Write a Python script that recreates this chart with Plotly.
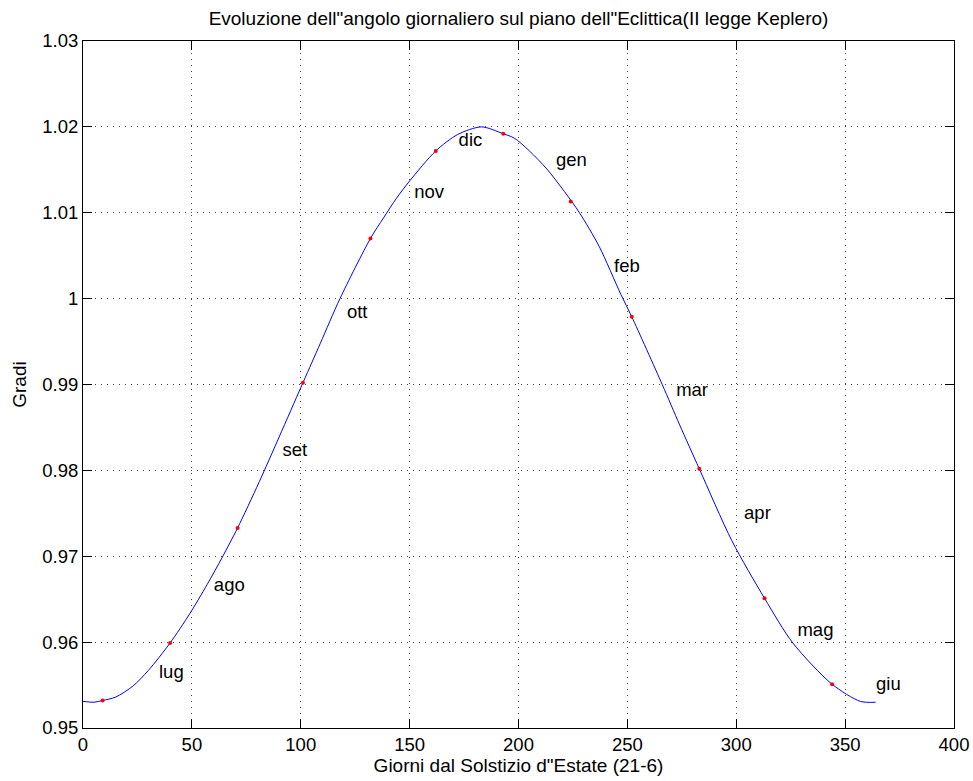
import plotly.graph_objects as go

# Curve samples (day since June solstice, degrees/day)
days = [0, 5, 9, 15, 23, 30, 40, 49, 57, 64, 71, 81, 101, 109, 118, 132, 138, 144,
        150, 162, 172, 183, 193, 198, 205, 213, 221, 228, 237, 247, 252, 266, 274,
        283, 298, 313, 326, 344, 357, 364]
gradi = [0.9531, 0.9530, 0.9532, 0.9536, 0.9549, 0.9567, 0.9599, 0.9633, 0.9667,
         0.9699, 0.9733, 0.9787, 0.9902, 0.9948, 1.0000, 1.0070, 1.0094, 1.0117,
         1.0137, 1.0172, 1.0191, 1.0200, 1.0192, 1.0187, 1.0172, 1.0151, 1.0125,
         1.0100, 1.0061, 1.0005, 0.9979, 0.9900, 0.9853, 0.9802, 0.9718, 0.9651,
         0.9599, 0.9551, 0.9531, 0.9530]

# Red markers (one per month)
mark_days = [9, 40, 71, 101, 132, 162, 193, 224, 252, 283, 313, 344]
mark_vals = [0.9532, 0.9599, 0.9733, 0.9902, 1.0070, 1.0172, 1.0192, 1.0113,
             0.9979, 0.9802, 0.9651, 0.9551]

# Month labels
mesi = ["lug", "ago", "set", "ott", "nov", "dic", "gen", "feb", "mar", "apr", "mag", "giu"]
mesi_x = [34.9, 60.1, 91.6, 121.2, 152.1, 172.5, 217.2, 243.9, 272.4, 303.6, 328.1, 364.2]
mesi_y = [0.9564, 0.9665, 0.9822, 0.9983, 1.0122, 1.0183, 1.0160, 1.0036, 0.9892,
          0.9749, 0.9612, 0.9550]

x_ticks = [0, 50, 100, 150, 200, 250, 300, 350, 400]
y_ticks = [0.95, 0.96, 0.97, 0.98, 0.99, 1.00, 1.01, 1.02, 1.03]
y_ticktext = ["0.95", "0.96", "0.97", "0.98", "0.99", "1", "1.01", "1.02", "1.03"]

FONT = "Liberation Sans, Arial, Helvetica, sans-serif"

fig = go.Figure()
fig.add_trace(go.Scatter(x=days, y=gradi, mode="lines",
                         line=dict(color="#0000ff", width=1, shape="spline", smoothing=0.8),
                         showlegend=False, hoverinfo="skip"))
fig.add_trace(go.Scatter(x=mark_days, y=mark_vals, mode="markers",
                         marker=dict(color="#ff0000", size=4), showlegend=False))
fig.add_trace(go.Scatter(x=mesi_x, y=mesi_y, mode="text", text=mesi, textposition="middle right",
                         textfont=dict(family=FONT, size=18.5, color="black"), showlegend=False))

axis_common = dict(
    showline=True, linecolor="black", linewidth=1, mirror="ticks",
    ticks="inside", ticklen=9, tickcolor="black",
    showgrid=True, gridcolor="#444444", gridwidth=1, griddash="1px,5px",
    zeroline=False, automargin=False, tickfont=dict(family=FONT, size=18.5, color="black"),
)

fig.update_xaxes(range=[0, 400], tickvals=x_ticks, ticktext=[str(v) for v in x_ticks],
                 title=dict(text="Giorni dal Solstizio d\"Estate (21-6)", standoff=2,
                            font=dict(family=FONT, size=19, color="black")),
                 **axis_common)
fig.update_yaxes(range=[0.95, 1.03], tickvals=y_ticks, ticktext=y_ticktext,
                 title=dict(text="Gradi", standoff=10, font=dict(family=FONT, size=19, color="black")),
                 **axis_common)

fig.update_layout(
    width=973, height=781,
    margin=dict(l=83, r=19, t=41, b=53, autoexpand=False),
    paper_bgcolor="white", plot_bgcolor="white",
    title=dict(text="Evoluzione dell\"angolo giornaliero sul piano dell\"Eclittica(II legge Keplero)",
               x=0.5, xref="paper", y=1 - 18 / 781, yanchor="middle",
               font=dict(family=FONT, size=19, color="black")),
    font=dict(family=FONT, size=18.5, color="black"),
)

fig.write_html("out.html")
